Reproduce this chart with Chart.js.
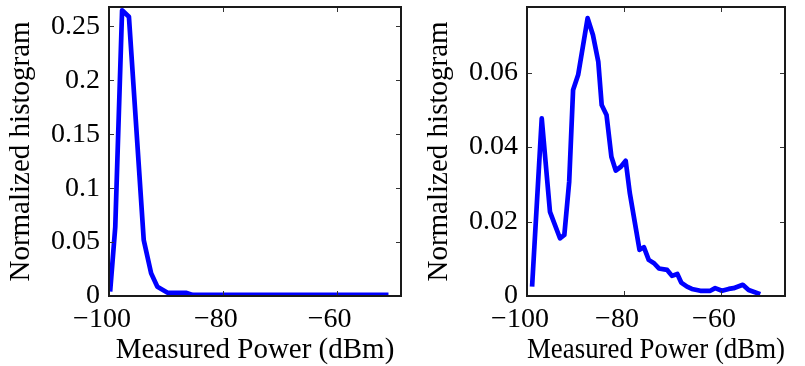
<!DOCTYPE html>
<html>
<head>
<meta charset="utf-8">
<script src="https://cdn.jsdelivr.net/npm/chart.js@4/dist/chart.umd.min.js"></script>
<style>
  html, body { margin: 0; padding: 0; background: #fff; }
  #wrap { position: relative; width: 805px; height: 366px; }
  #leftBox { position: absolute; left: 0; top: 0; width: 410px; height: 366px; }
  #rightBox { position: absolute; left: 410px; top: 0; width: 395px; height: 366px; }
</style>
</head>
<body>
<div id="wrap">
  <div id="leftBox"><canvas id="leftChart"></canvas></div>
  <div id="rightBox"><canvas id="rightChart"></canvas></div>
</div>
<script>
// left panel: narrow peak
const powerLeft = [-99.8, -98.9, -97.7, -96.5, -93.9, -92.6, -91.5, -89.7, -86.5, -85.3, -50.9];
const histLeft  = [0.004, 0.064, 0.265, 0.259, 0.052, 0.021, 0.0085, 0.003, 0.003, 0.001, 0.001];

// right panel: two peaks
const powerRight = [-98.95, -96.96, -95.26, -93.2, -92.3, -91.3, -90.5, -89.45, -87.5, -86.4,
    -85.3, -84.6, -83.6, -82.6, -81.7, -80.65, -79.65, -78.8, -77.8, -76.8,
    -75.9, -74.9, -73.8, -72.8, -71.1, -70.1, -69.0, -68.2, -67.0, -66.0,
    -64.25, -62.2, -61.2, -59.8, -58.4, -57.4, -55.5, -54.3, -51.9];
const histRight = [0.0025, 0.0477, 0.0226, 0.0155, 0.0164, 0.0307, 0.0553, 0.0594, 0.0746, 0.0701,
    0.0629, 0.0513, 0.0486, 0.0374, 0.0337, 0.0347, 0.0363, 0.0276, 0.0200, 0.0124,
    0.0131, 0.0097, 0.0088, 0.0074, 0.0070, 0.0054, 0.0059, 0.0036, 0.0025, 0.0019,
    0.0014, 0.0014, 0.0021, 0.0014, 0.0019, 0.0021, 0.0030, 0.0016, 0.0005];

const xTicks = [-100, -80, -60];
const xTickLabels = ['\u2212100', '\u221280', '\u221260'];
const yTicksLeft = [0, 0.05, 0.1, 0.15, 0.2, 0.25];
const yTickLabelsLeft = ['0', '0.05', '0.1', '0.15', '0.2', '0.25'];
const yTicksRight = [0, 0.02, 0.04, 0.06];
const yTickLabelsRight = ['0', '0.02', '0.04', '0.06'];

const serif = "'Liberation Serif', 'Times New Roman', serif";

// matlab style box with inward ticks on all sides
const boxPlugin = {
    id: 'matlabBox',
    afterDatasetsDraw(chart) {
        const { ctx, chartArea: a, scales } = chart;
        const len = 5;
        ctx.save();
        ctx.strokeStyle = '#333';
        ctx.lineWidth = 1;
        ctx.beginPath();
        scales.x.ticks.forEach(t => {
            const px = Math.round(scales.x.getPixelForValue(t.value)) + 0.5;
            ctx.moveTo(px, a.bottom); ctx.lineTo(px, a.bottom - len);
            ctx.moveTo(px, a.top); ctx.lineTo(px, a.top + len);
        });
        scales.y.ticks.forEach(t => {
            const py = Math.round(scales.y.getPixelForValue(t.value)) + 0.5;
            ctx.moveTo(a.left, py); ctx.lineTo(a.left + len, py);
            ctx.moveTo(a.right, py); ctx.lineTo(a.right - len, py);
        });
        ctx.stroke();
        ctx.strokeStyle = '#1a1a1a';
        ctx.lineWidth = 2;
        ctx.strokeRect(a.left, a.top, a.right - a.left, a.bottom - a.top);
        ctx.restore();
    }
};

function makeChart(id, xs, ys, cfg) {
    const ctx = document.getElementById(id);
    return new Chart(ctx, {
        type: 'line',
        data: {
            datasets: [{
                data: xs.map((x, i) => ({ x: x, y: ys[i] })),
                borderColor: '#0000ff',
                borderWidth: 4.7,
                borderJoinStyle: 'round',
                pointRadius: 0,
                tension: 0,
                fill: false
            }]
        },
        options: {
            responsive: true,
            maintainAspectRatio: false,
            animation: false,
            events: [],
            layout: { padding: { left: 0, right: cfg.padRight, top: 7, bottom: 0 } },
            plugins: { legend: { display: false }, tooltip: { enabled: false } },
            scales: {
                x: {
                    type: 'linear',
                    min: -100,
                    max: cfg.xMax,
                    grid: { display: false, drawTicks: false },
                    border: { display: false },
                    afterBuildTicks: s => { s.ticks = xTicks.map(v => ({ value: v })); },
                    afterFit: s => { s.height = 70; s.paddingLeft = 0; s.paddingRight = 0; },
                    ticks: {
                        color: '#000',
                        padding: 7,
                        labelOffset: -7,
                        maxRotation: 0,
                        font: { family: serif, size: 28 },
                        callback: (v, i) => xTickLabels[i]
                    },
                    title: {
                        display: true,
                        text: 'Measured Power (dBm)',
                        color: '#000',
                        font: { family: serif, size: 29, lineHeight: 1 },
                        padding: { top: 0, bottom: 1 }
                    }
                },
                y: {
                    min: 0,
                    max: cfg.yMax,
                    grid: { display: false, drawTicks: false },
                    border: { display: false },
                    afterBuildTicks: s => { s.ticks = cfg.yTicks.map(v => ({ value: v })); },
                    afterFit: s => { s.width = cfg.yWidth; s.paddingTop = 0; s.paddingBottom = 0; },
                    ticks: {
                        color: '#000',
                        padding: 9,
                        font: { family: serif, size: 28 },
                        callback: (v, i) => cfg.yLabels[i]
                    },
                    title: {
                        display: true,
                        text: 'Normalized histogram',
                        color: '#000',
                        font: { family: serif, size: 29, lineHeight: 1 },
                        padding: { top: cfg.titlePad, bottom: 0 }
                    }
                }
            }
        },
        plugins: [boxPlugin]
    });
}

makeChart('leftChart', powerLeft, histLeft, {
    xMax: -48.7, yMax: 0.268, yTicks: yTicksLeft, yLabels: yTickLabelsLeft,
    yWidth: 109, padRight: 9, titlePad: 7
});
makeChart('rightChart', powerRight, histRight, {
    xMax: -46.8, yMax: 0.0776, yTicks: yTicksRight, yLabels: yTickLabelsRight,
    yWidth: 117, padRight: 20, titlePad: 15
});
</script>
</body>
</html>
